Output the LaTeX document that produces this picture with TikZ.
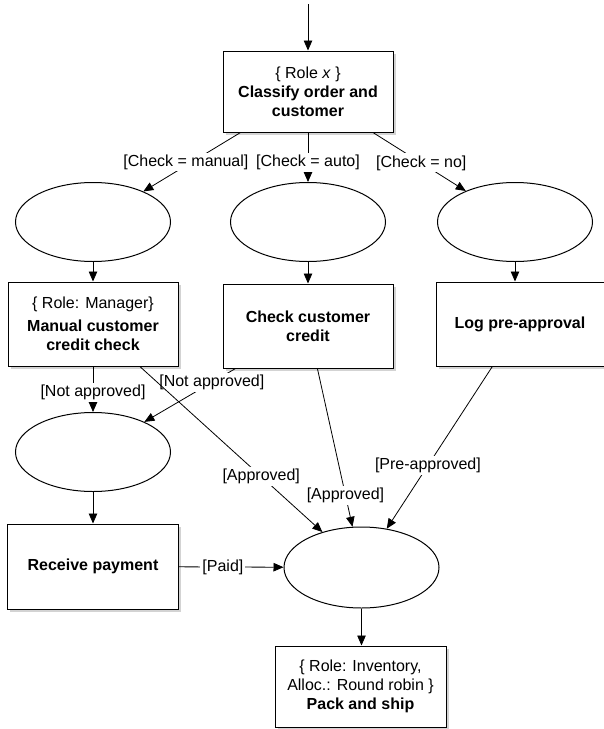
\documentclass[tikz,border=0pt]{standalone}
\usepackage{fontspec}
\setmainfont{Liberation Sans}
\usetikzlibrary{arrows.meta,shapes.geometric,shadows}

\begin{document}
\begin{tikzpicture}[x=1pt,y=-1pt,
    font=\fontsize{16}{19}\selectfont,
    box/.style={draw,fill=white,line width=1pt,minimum width=170,minimum height=83,
      align=center,inner sep=2pt,
      drop shadow={shadow xshift=2.5pt,shadow yshift=-3pt,opacity=0.35}},
    gate/.style={draw,ellipse,fill=white,line width=1pt,minimum width=155,
      minimum height=79,inner sep=0pt},
    flow/.style={line width=0.8pt,-{Triangle[length=10pt,width=8.5pt]}},
    guard/.style={fill=white,inner sep=2pt}]
  \useasboundingbox (0,0) rectangle (604,729);

  % activities
  \coordinate (in) at (308,4);
  \node[box,minimum height=81] (classify) at (308,91.5)
    {\{ Role \textit{x} \}\\ \textbf{Classify order and}\\ \textbf{customer}};
  \node[box,minimum height=84] (manual) at (93,324)
    {\{ Role: Manager\}\\[4pt] \textbf{Manual customer}\\ \textbf{credit check}};
  \node[box,minimum height=84] (check) at (308,326)
    {\textbf{Check customer}\\ \textbf{credit}};
  \node[box,minimum width=168,minimum height=84] (log) at (520,324)
    {\textbf{Log pre-approval}};
  \node[box,minimum width=171,minimum height=85] (receive) at (93,566.5)
    {\textbf{Receive payment}};
  \node[box,minimum width=171,minimum height=81] (pack) at (360.5,686.5)
    {\{ Role: Inventory,\\ Alloc.: Round robin \}\\ \textbf{Pack and ship}};

  % gateways
  \node[gate] (manualgate) at (93,222) {};
  \node[gate] (autogate) at (308,222) {};
  \node[gate] (nogate) at (515,222) {};
  \node[gate] (rejectgate) at (93,452) {};
  \node[gate,minimum height=81] (shipgate) at (361.5,567.5) {};

  % flows
  \draw[flow] (in) -- (classify);
  \draw[flow] (classify) -- node[guard,pos=0.5,xshift=-6pt]{[Check = manual]} (manualgate);
  \draw[flow] (classify) -- node[guard,pos=0.6]{[Check = auto]} (autogate);
  \draw[flow] (classify) -- node[guard,pos=0.52]{[Check = no]} (nogate);
  \draw[flow] (manualgate) -- (manual);
  \draw[flow] (autogate) -- (check);
  \draw[flow] (nogate) -- (nogate |- log.north);
  \draw[flow] (manual) -- node[guard,pos=0.57]{[Not approved]} (rejectgate);
  \draw[flow] (check) -- node[guard,pos=0.26]{[Not approved]} (rejectgate);
  \draw[flow] (manual) -- node[guard,pos=0.665]{[Approved]} (shipgate);
  \draw[flow] (check) -- node[guard,pos=0.8]{[Approved]} (shipgate);
  \draw[flow] (log) -- node[guard,pos=0.61]{[Pre-approved]} (shipgate);
  \draw[flow] (rejectgate) -- (receive);
  \draw[flow] (receive) -- node[guard,pos=0.42]{[Paid]} (shipgate);
  \draw[flow] (shipgate) -- (shipgate |- pack.north);
\end{tikzpicture}
\end{document}
